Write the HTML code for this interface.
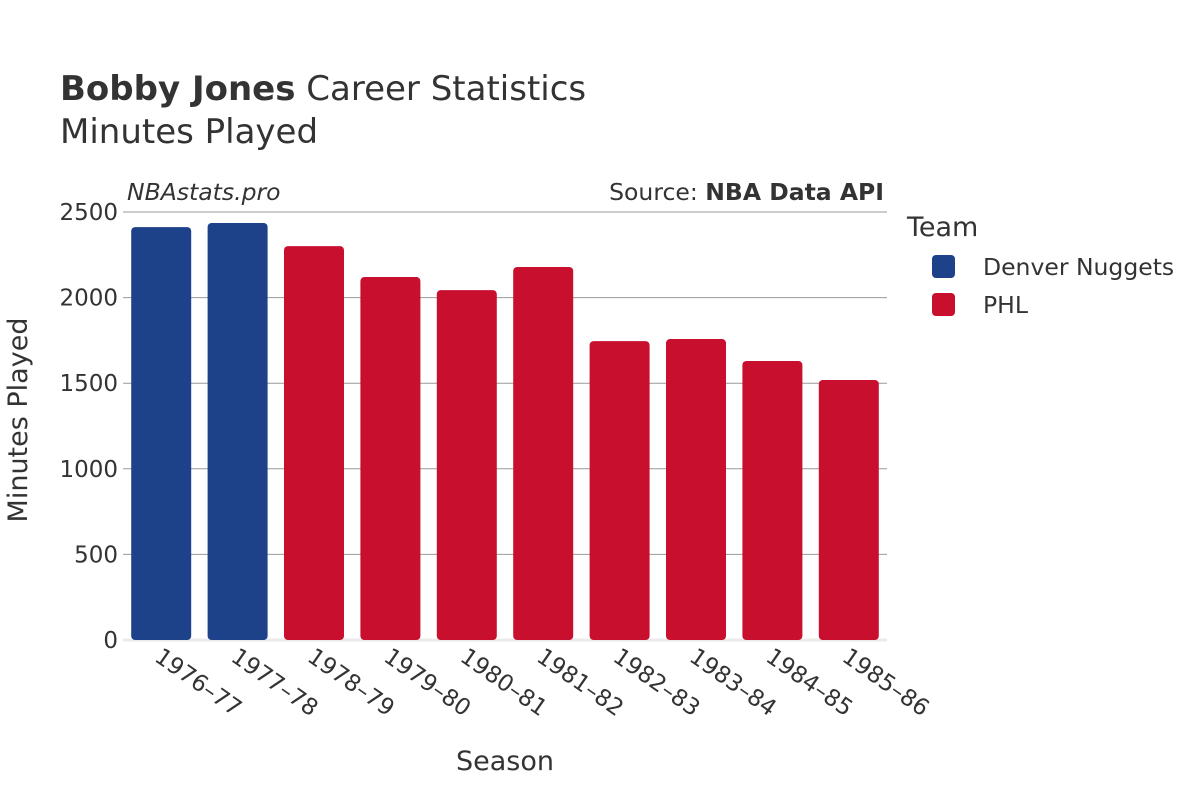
<!DOCTYPE html>
<html><head><meta charset="utf-8"><style>
body{margin:0;background:#fff;font-family:"DejaVu Sans","Liberation Sans",sans-serif;}
svg text{font-family:"DejaVu Sans","Liberation Sans",sans-serif;fill:#333;}
</style></head><body>
<svg id="chart" width="1200" height="800">
<text x="60" y="100" font-size="34"><tspan font-weight="bold">Bobby Jones</tspan> Career Statistics</text>
<text x="60" y="143" font-size="34">Minutes Played</text>
<text x="127" y="200" font-size="23.5" font-style="italic">NBAstats.pro</text>
<text x="884" y="200" font-size="23.5" text-anchor="end">Source: <tspan font-weight="bold">NBA Data API</tspan></text>
<g id="grid"></g><g id="bars"></g><g id="xt"></g>
<text x="505" y="770" font-size="27" text-anchor="middle">Season</text>
<text transform="translate(27,420) rotate(-90)" font-size="27" text-anchor="middle">Minutes Played</text>
<text x="907" y="236" font-size="27">Team</text>
<g><rect x="932" y="255" width="23" height="23" rx="4" fill="#1d428a"/><text x="983" y="275" font-size="23.5">Denver Nuggets</text></g>
<g><rect x="932" y="293" width="23" height="23" rx="4" fill="#c8102e"/><text x="983" y="313" font-size="23.5">PHL</text></g>
</svg>
<script>
const seasons=["1976-77","1977-78","1978-79","1979-80","1980-81","1981-82","1982-83","1983-84","1984-85","1985-86"];
const minutes=[2412,2436,2301,2120,2044,2179,1746,1758,1630,1519];
const teams=["DEN","DEN","PHL","PHL","PHL","PHL","PHL","PHL","PHL","PHL"];
const yTicks=[0,500,1000,1500,2000,2500];
const colors={DEN:"#1d428a",PHL:"#c8102e"};
const ns="http://www.w3.org/2000/svg";
const x0=123,x1=887,y0=640,yTop=212,yMax=2500;
const y=v=>y0-(v/yMax)*(y0-yTop);
const band=(x1-x0)/seasons.length;
const mk=(t,a,p)=>{const e=document.createElementNS(ns,t);for(const k in a)e.setAttribute(k,a[k]);p.appendChild(e);return e;};
const g=document.getElementById('grid'),b=document.getElementById('bars'),xt=document.getElementById('xt');
yTicks.forEach(t=>{
  const l=mk('line',{x1:x0,x2:x1,y1:y(t),y2:y(t),stroke:t===0?'#ebebeb':'#999','stroke-width':t===0?3:1},g);
  
  
  const tx=mk('text',{x:x0-5,y:y(t)+8,'font-size':23,'text-anchor':'end'},g);tx.textContent=t;
  
  
});
seasons.forEach((s,i)=>{
  const cx=x0+band*(i+0.5),w=60;
  const r=mk('rect',{x:cx-w/2,y:y(minutes[i]),width:w,height:y0-y(minutes[i]),rx:4,fill:colors[teams[i]]},b);
  
  
  const t=mk('text',{transform:`translate(${cx-8},${660}) rotate(35)`,'font-size':23},xt);t.textContent=s.replace('-','–');
  
  
});
</script>
</body></html>
